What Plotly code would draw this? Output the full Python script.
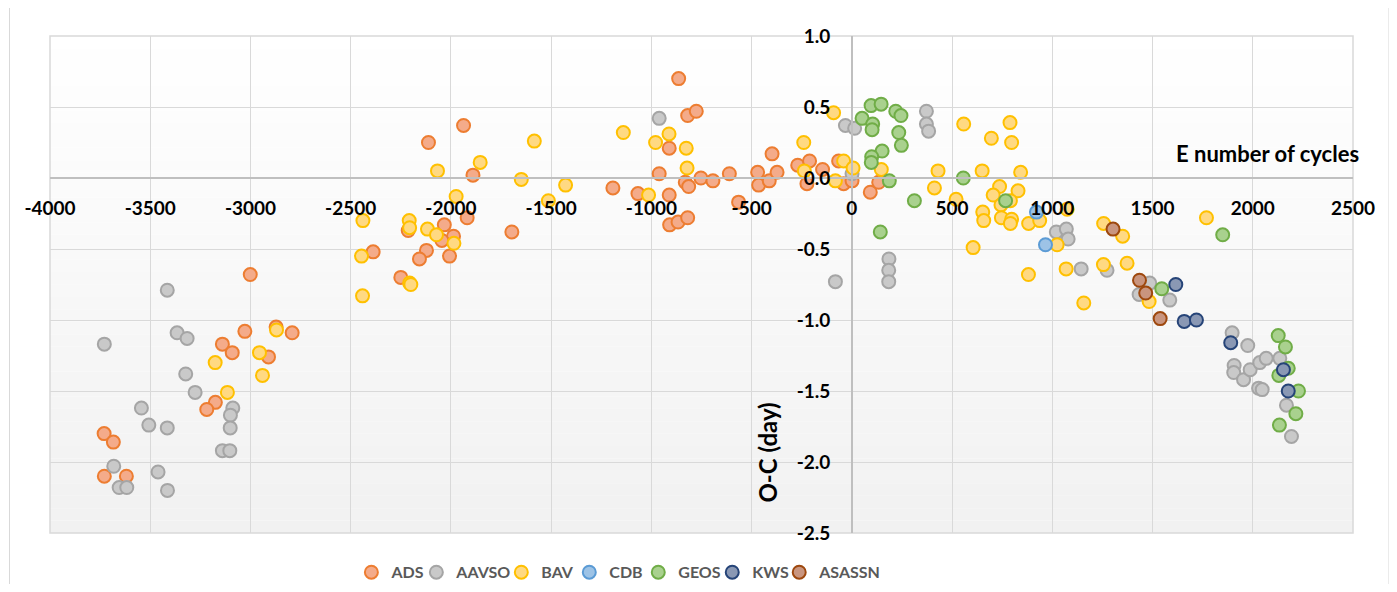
import plotly.graph_objects as go

# ---------------- data (E cycles, O-C days) ----------------
ads_x = [-3001, -3028, -2872, -2792, -3140, -3091, -2910, -3175, -3218, -3730, -3684, -3729, -3619,
         -1937, -2112, -1890, -1919, -1696, -2033, -2213, -1987, -2045, -2122, -2388, -2157, -2007, -2250,
         -864, -819, -776, -911, -961, -1192, -1067, -911, -831, -814, -753, -693, -611, -565, -909, -867,
         -819, -470, -465, -412, -373, -398, -270, -211, -146, -224, -66, -41, 1, 92, 134]
ads_y = [-0.68, -1.08, -1.05, -1.09, -1.17, -1.23, -1.26, -1.58, -1.63, -1.80, -1.86, -2.10, -2.10,
         0.37, 0.25, 0.02, -0.28, -0.38, -0.33, -0.37, -0.41, -0.44, -0.51, -0.52, -0.57, -0.55, -0.70,
         0.70, 0.44, 0.47, 0.21, 0.03, -0.07, -0.11, -0.12, -0.03, -0.06, 0.00, -0.02, 0.03, -0.17, -0.33, -0.31,
         -0.28, 0.04, -0.05, -0.02, 0.04, 0.17, 0.09, 0.12, 0.06, -0.04, 0.12, -0.04, -0.02, -0.10, -0.03]

aavso_x = [-3729, -3415, -3366, -3316, -3323, -3276, -3544, -3507, -3415, -3088, -3100, -3101, -3140, -3103,
           -3682, -3655, -3617, -3461, -3414,
           -961, -32, 14, 372, 372, 383, 1, 185, 184, 184, -82,
           1020, 1070, 1079, 1144, 1273, 1486, 1433, 1586, 1897, 1975, 1907, 1905, 1954, 1987, 2035, 2067,
           2135, 2029, 2047, 2168, 2193]
aavso_y = [-1.17, -0.79, -1.09, -1.13, -1.38, -1.51, -1.62, -1.74, -1.76, -1.62, -1.67, -1.76, -1.92, -1.92,
           -2.03, -2.18, -2.18, -2.07, -2.20,
           0.42, 0.37, 0.35, 0.47, 0.38, 0.33, 0.03, -0.57, -0.65, -0.73, -0.73,
           -0.38, -0.36, -0.43, -0.64, -0.65, -0.74, -0.82, -0.86, -1.09, -1.18, -1.32, -1.37, -1.42, -1.35, -1.30, -1.27,
           -1.27, -1.48, -1.49, -1.60, -1.82]

bav_x = [-2870, -2955, -3176, -2940, -3115,
         -1584, -1854, -2067, -1649, -1974, -2439, -2208, -2206, -2117, -2072, -1985, -2446, -2206, -2200, -2441,
         -1428, -1514, -1140, -979, -912, -826, -822, -1014, -240, -237, -91, -82, -41, 6, 147,
         558, 430, 412, 520, 605,
         789, 696, 797, 650, 842, 737, 705, 829, 744, 791, 653, 658, 746, 797, 791, 882, 937, 1074, 1024,
         881, 1069, 1256, 1351, 1255, 1373, 1157, 1769, 1483]
bav_y = [-1.07, -1.23, -1.30, -1.39, -1.51,
         0.26, 0.11, 0.05, -0.01, -0.13, -0.30, -0.30, -0.35, -0.36, -0.40, -0.46, -0.55, -0.74, -0.75, -0.83,
         -0.05, -0.16, 0.32, 0.25, 0.31, 0.21, 0.07, -0.12, 0.25, 0.05, 0.46, -0.02, 0.12, 0.07, 0.06,
         0.38, 0.05, -0.07, -0.15, -0.49,
         0.39, 0.28, 0.25, 0.05, 0.04, -0.06, -0.12, -0.09, -0.19, -0.16, -0.24, -0.30, -0.28, -0.29, -0.32, -0.32, -0.30, -0.22, -0.47,
         -0.68, -0.64, -0.32, -0.41, -0.61, -0.60, -0.88, -0.28, -0.87]

cdb_x = [921, 966]
cdb_y = [-0.24, -0.47]

geos_x = [96, 146, 51, 104, 101, 219, 245, 234, 247, 151, 99, 97, 187, 312, 142, 556, 767,
          1850, 1546, 2127, 2163, 2177, 2130, 2228, 2215, 2133]
geos_y = [0.51, 0.52, 0.42, 0.38, 0.34, 0.47, 0.44, 0.32, 0.23, 0.19, 0.15, 0.11, -0.02, -0.16, -0.38, 0.00, -0.16,
          -0.40, -0.78, -1.11, -1.19, -1.34, -1.39, -1.50, -1.66, -1.74]

kws_x = [1616, 1658, 1719, 1890, 2153, 2177]
kws_y = [-0.75, -1.01, -1.00, -1.16, -1.35, -1.50]

asassn_x = [1303, 1435, 1466, 1538]
asassn_y = [-0.36, -0.72, -0.81, -0.99]

series_names = ["ADS", "AAVSO", "BAV", "CDB", "GEOS", "KWS", "ASASSN"]
series_x = [ads_x, aavso_x, bav_x, cdb_x, geos_x, kws_x, asassn_x]
series_y = [ads_y, aavso_y, bav_y, cdb_y, geos_y, kws_y, asassn_y]

x_ticks = [-4000, -3500, -3000, -2500, -2000, -1500, -1000, -500, 0, 500, 1000, 1500, 2000, 2500]
y_ticks = [1.0, 0.5, 0.0, -0.5, -1.0, -1.5, -2.0, -2.5]

# ---------------- styling ----------------
fills = ["#F4AB8A", "#C9C9C9", "#FFD982", "#9DC3E6", "#A9D18E", "#8A98B4", "#C9957F"]
edges = ["#ED7D31", "#A5A5A5", "#FFC000", "#5B9BD5", "#70AD47", "#264478", "#9E480E"]
legend_marker_px = [372, 437, 522, 590, 659, 733, 800]   # screen x of legend symbols

X_RANGE = [min(x_ticks), max(x_ticks)]
Y_RANGE = [min(y_ticks), max(y_ticks)]

OFF = 8                      # page body margin
SW, SH = 1397, 592           # screen size
W, H = SW - 2 * OFF, SH - 2 * OFF
PL, PR, PT, PB = 49.5, 1353.0, 35.7, 532.7   # plot area on screen
ML, MT = PL - OFF, PT - OFF
MR, MB = W - (PR - OFF), H - (PB - OFF)
PW, PH = PR - PL, PB - PT

def px_x(p):  # screen pixel -> paper fraction
    return (p - PL) / PW

def px_y(p):
    return (PB - p) / PH

fig = go.Figure()

for i, (name, xs, ys, fc, ec) in enumerate(zip(series_names, series_x, series_y, fills, edges)):
    fig.add_trace(go.Scatter(
        x=xs, y=ys, mode="markers", name=name,
        legend="legend" if i == 0 else f"legend{i + 1}",
        marker=dict(size=13, color=fc, line=dict(color=ec, width=2))))

tick_font = dict(family="Lato", size=19, color="#000000", weight=700)
leg_font = dict(family="Lato", size=16, color="#595959", weight=700)

# gradient plot background (bands below gridlines)
n_bands = 40
shapes = []
for k in range(n_bands):
    t = (k + 0.5) / n_bands  # 0 at bottom, 1 at top
    g = int(round(241 + (255 - 241) * t))
    shapes.append(dict(type="rect", xref="paper", yref="paper", x0=0, x1=1,
                       y0=k / n_bands, y1=(k + 1) / n_bands, line=dict(width=0),
                       fillcolor=f"rgb({g},{g},{g})", layer="below"))
shapes.append(dict(type="rect", xref="paper", yref="paper", x0=0, x1=1, y0=0, y1=1,
                   line=dict(color="#D9D9D9", width=1.5), fillcolor="rgba(0,0,0,0)", layer="between"))
shapes.append(dict(type="rect", xref="paper", yref="paper", x0=px_x(9), x1=px_x(1389),
                   y0=px_y(591), y1=px_y(-5), line=dict(color="#D9D9D9", width=1),
                   fillcolor="rgba(0,0,0,0)", layer="below"))

layout = dict(
    width=W, height=H,
    margin=dict(l=ML, r=MR, t=MT, b=MB, pad=0, autoexpand=False),
    paper_bgcolor="#FFFFFF",
    plot_bgcolor="rgba(0,0,0,0)",
    showlegend=True,
    xaxis=dict(range=X_RANGE, tickvals=x_ticks, ticktext=[str(v) for v in x_ticks],
               showgrid=True, gridcolor="#D9D9D9", gridwidth=1, zeroline=False,
               showline=True, linecolor="#BFBFBF", linewidth=1.5,
               anchor="free", position=(0 - Y_RANGE[0]) / (Y_RANGE[1] - Y_RANGE[0]),
               ticks="", ticklabelstandoff=13, tickfont=tick_font, layer="above traces"),
    yaxis=dict(range=Y_RANGE, tickvals=y_ticks, ticktext=[f"{v:.1f}" for v in y_ticks],
               showgrid=True, gridcolor="#D9D9D9", gridwidth=1, zeroline=False,
               showline=True, linecolor="#BFBFBF", linewidth=1.5,
               anchor="free", position=(0 - X_RANGE[0]) / (X_RANGE[1] - X_RANGE[0]),
               ticks="", ticklabelstandoff=17, tickfont=tick_font, layer="above traces"),
    shapes=shapes,
    annotations=[
        dict(text="E number of cycles", xref="paper", yref="paper", x=px_x(1361), y=px_y(153),
             xanchor="right", yanchor="middle", showarrow=False,
             font=dict(family="Lato", size=22, color="#000000", weight=700)),
        dict(text="O-C (day)", xref="paper", yref="paper", x=px_x(767), y=px_y(452),
             xanchor="center", yanchor="middle", textangle=-90, showarrow=False,
             font=dict(family="Lato", size=24, color="#000000", weight=700)),
    ],
)
for i, mx in enumerate(legend_marker_px):
    key = "legend" if i == 0 else f"legend{i + 1}"
    layout[key] = dict(orientation="h", x=px_x(mx - 21), xanchor="left",
                       y=px_y(572), yanchor="middle", font=leg_font,
                       bgcolor="rgba(0,0,0,0)", itemsizing="trace", borderwidth=0)

fig.update_layout(**layout)
fig.write_html("out.html")
